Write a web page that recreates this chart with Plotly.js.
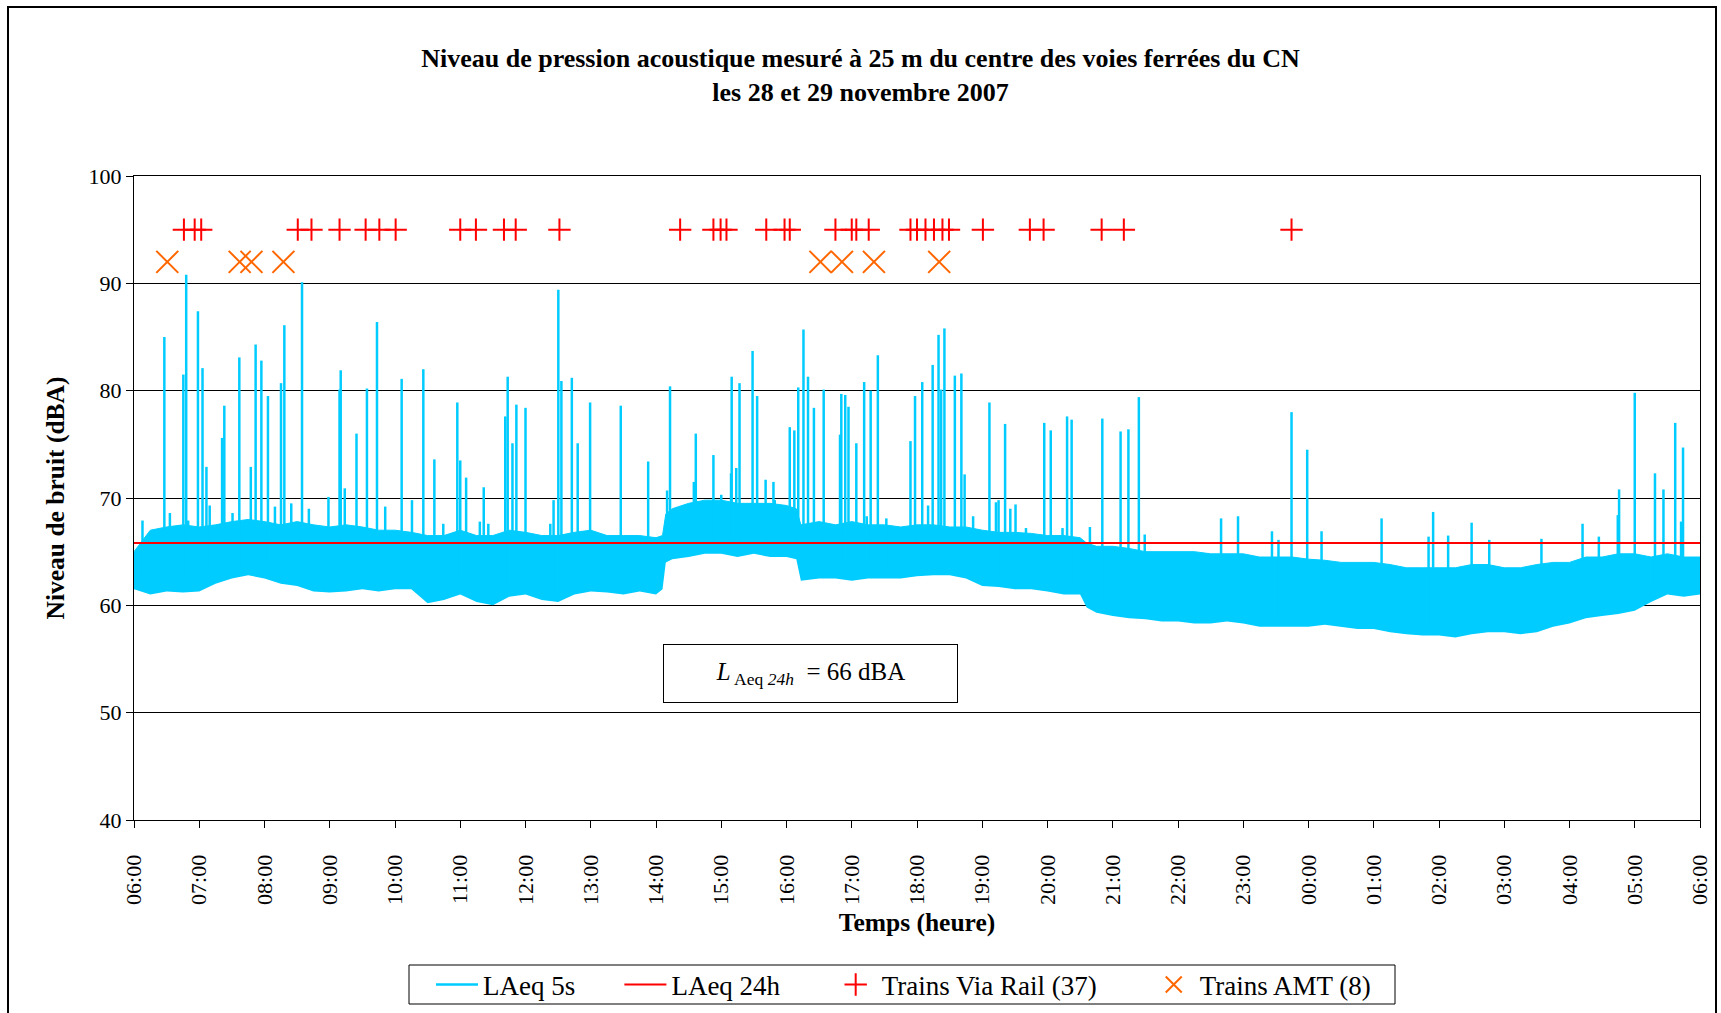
<!DOCTYPE html>
<html><head><meta charset="utf-8">
<script src="https://cdn.plot.ly/plotly-3.0.1.min.js"></script>
<style>html,body{margin:0;padding:0;background:#fff;overflow:hidden}#chart{width:1721px;height:1013px}</style>
</head><body><div id="chart"></div>
<script>
// ---------- DATA ----------
const tickHours = [6,7,8,9,10,11,12,13,14,15,16,17,18,19,20,21,22,23,24,25,26,27,28,29,30];
const tickLabels = ["06:00","07:00","08:00","09:00","10:00","11:00","12:00","13:00","14:00","15:00","16:00","17:00","18:00","19:00","20:00","21:00","22:00","23:00","00:00","01:00","02:00","03:00","04:00","05:00","06:00"];

// envelope of the dense 5 s band (hours since 00:00 of 28 Nov)
const envTimes = [6.00,6.25,6.50,6.75,7.00,7.25,7.50,7.75,8.00,8.25,8.50,8.75,9.00,9.25,9.50,9.75,10.00,10.25,10.50,10.75,11.00,11.25,11.50,11.75,12.00,12.25,12.50,12.75,13.00,13.25,13.50,13.75,14.00,14.10,14.15,14.25,14.50,14.75,15.00,15.25,15.50,15.75,16.00,16.15,16.22,16.50,16.75,17.00,17.25,17.50,17.75,18.00,18.25,18.50,18.75,19.00,19.25,19.50,19.75,20.00,20.25,20.50,20.60,20.75,21.00,21.25,21.50,21.75,22.00,22.25,22.50,22.75,23.00,23.25,23.50,23.75,24.00,24.25,24.50,24.75,25.00,25.25,25.50,25.75,26.00,26.25,26.50,26.75,27.00,27.25,27.50,27.75,28.00,28.25,28.50,28.75,29.00,29.25,29.50,29.75,30.00];
const envHigh = [65.0,67.0,67.3,67.5,67.3,67.5,67.8,68.0,67.8,67.5,67.8,67.5,67.3,67.5,67.3,67.0,67.0,66.8,66.5,66.5,67.0,66.5,66.5,67.0,66.8,66.5,66.5,66.8,67.0,66.5,66.5,66.5,66.3,66.5,68.5,69.0,69.5,69.8,69.8,69.5,69.5,69.5,69.3,69.0,67.5,67.8,67.5,67.8,67.5,67.5,67.3,67.5,67.5,67.3,67.3,67.0,66.8,66.8,66.7,66.5,66.5,66.3,65.8,65.5,65.5,65.3,65.0,65.0,65.0,65.0,64.8,64.8,64.8,64.5,64.5,64.5,64.3,64.2,64.0,64.0,64.0,63.8,63.5,63.5,63.5,63.5,63.8,63.8,63.5,63.5,63.8,64.0,64.0,64.5,64.5,64.8,64.8,64.5,64.8,64.5,64.5];
const envLow = [61.5,61.0,61.3,61.2,61.3,62.0,62.5,62.8,62.5,62.0,61.8,61.3,61.2,61.3,61.5,61.3,61.5,61.5,60.2,60.5,61.0,60.3,60.0,60.8,61.0,60.5,60.3,61.0,61.3,61.2,61.0,61.3,61.0,61.5,64.0,64.3,64.5,64.8,64.8,64.5,64.8,64.5,64.5,64.3,62.3,62.5,62.5,62.3,62.5,62.5,62.5,62.7,62.8,62.8,62.5,61.8,61.7,61.5,61.5,61.3,61.0,61.0,59.8,59.3,59.0,58.8,58.7,58.5,58.5,58.3,58.3,58.5,58.3,58.0,58.0,58.0,58.0,58.2,58.0,57.8,57.8,57.5,57.3,57.2,57.2,57.0,57.3,57.5,57.5,57.3,57.5,58.0,58.3,58.8,59.0,59.2,59.5,60.3,61.0,60.8,61.0];

// isolated peaks of the 5 s level (pass-by events)
const spikeTimes = [6.13,6.465,6.55,6.756,6.80,6.83,6.98,7.05,7.11,7.16,7.35,7.384,7.51,7.614,7.79,7.864,7.952,8.053,8.16,8.253,8.304,8.41,8.575,8.68,8.98,9.15,9.168,9.23,9.41,9.57,9.724,9.85,10.102,10.26,10.434,10.603,10.74,10.955,11.0,11.09,11.30,11.36,11.43,11.69,11.727,11.80,11.86,12.0,
12.38,12.43,12.503,12.55,12.71,12.80,12.99,13.46,13.88,14.17,14.215,14.58,14.61,14.88,15.00,15.15,15.16,15.23,15.28,15.48,15.55,15.68,15.80,15.82,16.05,16.12,16.18,16.26,16.33,16.42,16.57,16.82,16.84,16.90,16.95,17.07,17.19,17.23,17.29,17.40,17.53,17.90,17.97,
18.08,18.17,18.24,18.33,18.37,18.42,18.58,18.68,18.73,18.86,19.11,19.21,19.25,19.35,19.43,19.51,19.67,19.95,20.05,20.23,20.30,20.37,20.65,20.84,21.12,21.24,21.40,21.49,22.66,22.92,23.44,23.54,23.74,23.98,
24.20,25.12,25.84,25.91,26.14,26.50,26.77,27.57,28.20,28.45,28.74,28.76,29.00,29.31,29.44,29.62,29.71,29.74];
const spikePeaks = [67.9,85.0,68.6,81.5,90.8,67.9,87.4,82.1,72.9,69.3,75.6,78.6,68.6,83.1,72.9,84.3,82.8,79.5,69.2,80.7,86.1,69.5,90.1,69.0,70.1,80.1,81.9,70.9,76.0,80.2,86.4,69.2,81.1,69.8,82.0,73.6,67.6,78.9,73.5,71.9,67.8,71.0,67.6,77.6,81.3,75.1,78.7,78.4,
67.6,69.8,89.4,80.9,81.2,75.1,78.9,78.6,73.4,70.7,80.4,71.5,76.0,74.0,70.3,72.3,81.3,72.8,80.7,83.7,79.5,71.7,71.5,69.8,76.6,76.3,80.3,85.7,81.3,78.4,80.1,75.9,79.7,79.6,78.5,75.1,80.8,68.3,80.0,83.3,68.1,75.3,79.5,
80.8,69.3,82.4,85.2,80.1,85.8,81.4,81.6,72.2,68.3,78.9,69.6,69.8,76.9,69.0,69.4,67.2,77.0,76.3,67.2,77.6,77.3,67.3,77.4,76.2,76.4,79.4,66.6,68.1,68.3,66.9,66.1,78.0,74.5,
66.9,68.1,66.4,68.7,66.5,67.7,66.1,66.2,67.6,66.4,68.4,70.8,79.8,72.3,70.8,77.0,67.8,74.7];

const laeq24h = 65.8;
const viaRailTimes = [6.765,6.93,7.03,8.51,8.72,9.15,9.55,9.76,10.01,11.00,11.24,11.67,11.85,12.52,14.37,14.88,14.99,15.08,15.69,15.97,16.05,16.75,17.00,17.07,17.26,17.90,18.00,18.13,18.26,18.39,18.49,19.01,19.73,19.94,20.83,21.17,23.74];
const amtTimes = [6.51,7.62,7.80,8.29,16.52,16.85,17.34,18.34];

const seriesNames = ['LAeq 5s','LAeq 24h','Trains Via Rail (37)','Trains AMT (8)'];

// ---------- STYLE ----------
const VIA_Y = 95, AMT_Y = 92;
const serif = '"Liberation Serif", "Times New Roman", serif';
const CYAN = '#00CCFF';
const NB = '\u00A0', TH = '\u2009';
const gaps = [NB.repeat(5)+TH, NB.repeat(5)+TH+TH, NB.repeat(6)+TH, ''];

// spike segments rise from inside the band (lower envelope at nearest envelope time)
function nearestIdx(t){let b=0;for(let i=1;i<envTimes.length;i++){if(Math.abs(envTimes[i]-t)<Math.abs(envTimes[b]-t))b=i;}return b;}
const sx=[], sy=[];
spikeTimes.forEach((t,i)=>{const base=envLow[nearestIdx(t)]+1;sx.push(t,t,null);sy.push(base,spikePeaks[i],null);});

const traces = [
  {x:envTimes, y:envLow, type:'scatter', mode:'lines', line:{width:0,color:CYAN}, showlegend:false, hoverinfo:'skip'},
  {x:envTimes, y:envHigh, type:'scatter', mode:'lines', line:{width:1,color:CYAN}, fill:'tonexty', fillcolor:CYAN, showlegend:false, hoverinfo:'skip'},
  {x:sx, y:sy, type:'scatter', mode:'lines', name:seriesNames[0]+gaps[0], line:{width:2.5,color:CYAN}, connectgaps:false},
  {x:[tickHours[0], tickHours[tickHours.length-1]], y:[laeq24h, laeq24h], type:'scatter', mode:'lines', name:seriesNames[1]+gaps[1], line:{width:2,color:'#FF0000'}},
  {x:viaRailTimes, y:viaRailTimes.map(()=>VIA_Y), type:'scatter', mode:'markers', name:seriesNames[2]+gaps[2], marker:{symbol:'cross-thin-open', size:16, line:{width:2,color:'#FF0000'}, color:'#FF0000'}},
  {x:amtTimes, y:amtTimes.map(()=>AMT_Y), type:'scatter', mode:'markers', name:seriesNames[3]+gaps[3], marker:{symbol:'x-thin-open', size:22, line:{width:2,color:'#FF6600'}, color:'#FF6600'}}
];

const layout = {
  width:1721, height:1013,
  margin:{l:134, r:21, t:176, b:193, autoexpand:false},
  paper_bgcolor:'#ffffff', plot_bgcolor:'#ffffff',
  font:{family:serif, color:'#000', size:22},
  title:{text:'<b>Niveau de pression acoustique mesuré à 25 m du centre des voies ferrées du CN<br>les 28 et 29 novembre 2007</b>',
         font:{family:serif, size:26, color:'#000'}, x:0.5, xref:'container', xanchor:'center', y:1-67/1013, yref:'container', yanchor:'top'},
  xaxis:{range:[6,30], tickvals:tickHours, ticktext:tickLabels, tickangle:-90, ticks:'outside', ticklen:7, tickcolor:'#000',
         showline:true, linecolor:'#000', linewidth:1, mirror:true, showgrid:false, zeroline:false, automargin:false,
         ticklabelstandoff:18, tickfont:{family:serif,size:22,color:'#000'},
         title:{text:'<b>Temps (heure)</b>', font:{family:serif,size:25.5,color:'#000'}, standoff:9}},
  yaxis:{range:[40,100], tick0:40, dtick:10, ticks:'outside', ticklen:7, tickcolor:'#000',
         showline:true, linecolor:'#000', linewidth:1, mirror:true, showgrid:true, gridcolor:'#000', gridwidth:1, zeroline:false, automargin:false,
         tickfont:{family:serif,size:22,color:'#000'},
         title:{text:'<b>Niveau de bruit (dBA)</b>', font:{family:serif,size:25.5,color:'#000'}, standoff:16}},
  legend:{orientation:'h', traceorder:'normal', x:(431-134)/1566, xanchor:'left', y:-(985-820)/644, yanchor:'middle',
          borderwidth:0, bgcolor:'rgba(0,0,0,0)', itemwidth:42, font:{family:serif,size:27,color:'#000'}},
  annotations:[{xref:'paper', yref:'paper', x:(810-134)/1566, y:(820-673)/644, xanchor:'center', yanchor:'middle', showarrow:false,
     text:'<i>L</i><sub> Aeq <i>24h</i></sub>  = 66 dBA', font:{family:serif,size:25,color:'#000'},
     bordercolor:'#000', borderwidth:1, borderpad:0, width:293, height:57, bgcolor:'#fff'}],
  shapes:[
    {type:'rect', xref:'paper', yref:'paper', x0:(8-134)/1566, x1:(1716-134)/1566, y0:(820-1030)/644, y1:(820-7)/644,
     line:{color:'#000', width:2}, fillcolor:'rgba(0,0,0,0)', layer:'above'},
    {type:'rect', xref:'paper', yref:'paper', x0:(409-134)/1566, x1:(1395-134)/1566, y0:(820-1004)/644, y1:(820-965)/644,
     line:{color:'#000', width:1}, fillcolor:'rgba(0,0,0,0)', layer:'below'}
  ]
};
Plotly.newPlot('chart', traces, layout, {displayModeBar:false, staticPlot:true});
</script></body></html>
